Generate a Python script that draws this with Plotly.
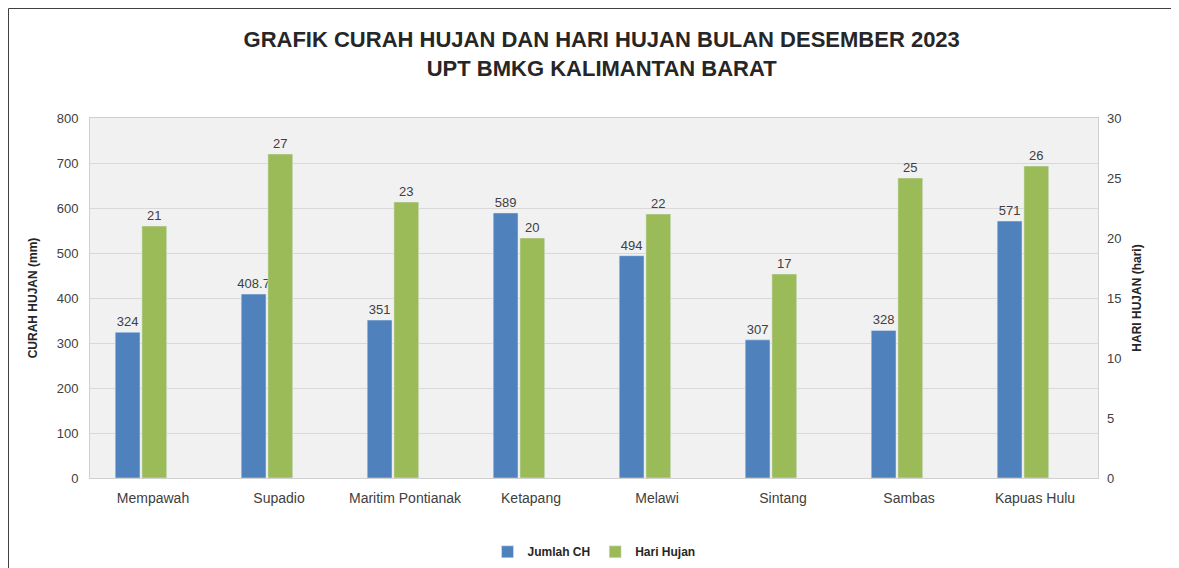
import plotly.graph_objects as go

stations = ["Mempawah", "Supadio", "Maritim Pontianak", "Ketapang", "Melawi", "Sintang", "Sambas", "Kapuas Hulu"]
jumlah_ch = [324, 408.7, 351, 589, 494, 307, 328, 571]
hari_hujan = [21, 27, 23, 20, 22, 17, 25, 26]
ch_labels = ["324", "408.7", "351", "589", "494", "307", "328", "571"]
hh_labels = [str(v) for v in hari_hujan]

FONT = "Liberation Sans, Arial, sans-serif"
BAR_W = 0.197

fig = go.Figure()
fig.add_trace(go.Bar(
    x=stations, y=jumlah_ch, name="<b>Jumlah CH</b>", width=BAR_W, offset=-0.30,
    marker=dict(color="#4f81bd"), text=ch_labels, textposition="outside", constraintext="none",
    textfont=dict(size=13, color="#404040", family=FONT), cliponaxis=False, yaxis="y"))
fig.add_trace(go.Bar(
    x=stations, y=hari_hujan, name="<b>Hari Hujan</b>", width=BAR_W, offset=-0.088,
    marker=dict(color="#9bbb59"), text=hh_labels, textposition="outside", constraintext="none",
    textfont=dict(size=13, color="#404040", family=FONT), cliponaxis=False, yaxis="y2"))

W, H = 1171, 560
L, R, T, B = 82, 81, 110, 90
PW, PH = W - L - R, H - T - B
fig.update_layout(
    width=W, height=H,
    margin=dict(l=L, r=R, t=T, b=B, autoexpand=False),
    paper_bgcolor="white", plot_bgcolor="#f1f1f1",
    font=dict(family=FONT, color="#404040", size=13),
    barmode="overlay",
    title=dict(text="<b>GRAFIK CURAH HUJAN DAN HARI HUJAN BULAN DESEMBER 2023<br>UPT BMKG KALIMANTAN BARAT</b>",
               x=0.507, xanchor="center", y=0.93, yanchor="top",
               font=dict(size=22, color="#262626", family=FONT)),
    xaxis=dict(showgrid=False, showline=True, linecolor="#d0d0d0", ticks="", ticklabelstandoff=7,
               tickfont=dict(size=14, color="#404040"), mirror=True, automargin=False),
    yaxis=dict(range=[0, 800], dtick=100, gridcolor="#d9d9d9", showline=True, linecolor="#d0d0d0",
               mirror=True, zeroline=False, ticks="", ticklabelstandoff=8, automargin=False,
               tickfont=dict(size=13),
               title=dict(text="<b>CURAH HUJAN (mm)</b>", font=dict(size=12, color="#262626"), standoff=16)),
    yaxis2=dict(range=[0, 30], dtick=5, overlaying="y", side="right", showgrid=False,
                zeroline=False, ticks="", ticklabelstandoff=8, automargin=False,
                tickfont=dict(size=13),
                title=dict(text="<b>HARI HUJAN (hari)</b>", font=dict(size=12, color="#262626"), standoff=12)),
    legend=dict(orientation="h", x=0.5, xanchor="center", y=-0.205, yanchor="middle",
                font=dict(size=12, color="#262626", family=FONT), traceorder="normal",
                itemwidth=30),
    showlegend=True,
)
fig.add_shape(type="rect", xref="paper", yref="paper",
              x0=(0.5 - L) / PW, x1=(W - 0.5 - L) / PW,
              y0=-(B + 20) / PH, y1=(H - B - 0.5) / PH,
              line=dict(color="#404040", width=1), fillcolor="rgba(0,0,0,0)", layer="below")

fig.write_html("out.html")
